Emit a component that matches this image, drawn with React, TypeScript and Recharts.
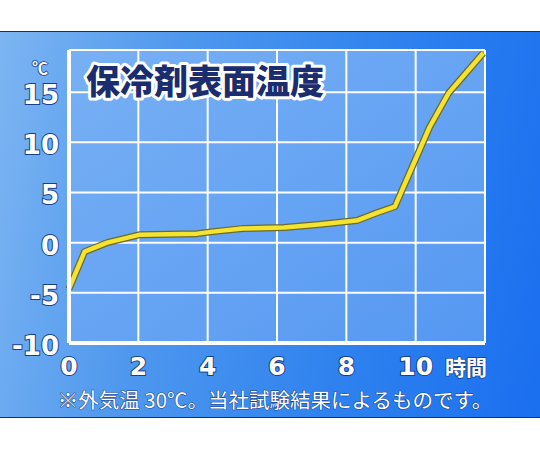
import React from "react";
import {
  LineChart,
  Line,
  XAxis,
  YAxis,
  CartesianGrid,
  ReferenceLine,
} from "recharts";

const hours = [0, 0.45, 1.1, 2.05, 3.7, 4.15, 5, 6.2, 7.2, 8.3, 8.9, 9.4, 10.4, 10.95, 11.95];
const temps = [-4.6, -0.9, 0, 0.8, 0.9, 1.1, 1.4, 1.5, 1.8, 2.2, 3.0, 3.6, 11.5, 14.9, 18.9];
const xTicks = [0, 2, 4, 6, 8, 10, 12];
const yTicks = [-10, -5, 0, 5, 10, 15];
const title = "保冷剤表面温度";
const footnote = "※外気温 30℃。当社試験結果によるものです。";
const unitY = "℃";
const unitX = "時間";

const data = hours.map((h, i) => ({ h, temp: temps[i] }));

const numFont = "'DejaVu Sans', sans-serif";
const jpFont = "'Noto Sans CJK JP', sans-serif";

const XTick = (props: any) => {
  const { x, y, payload } = props;
  if (payload.value === 12) return null;
  return (
    <text
      x={x}
      y={y + 24}
      textAnchor="middle"
      fontFamily={numFont}
      fontWeight="bold"
      fontSize={25}
      fill="#ffffff"
      stroke="#1a3f8a"
      strokeWidth={2}
      paintOrder="stroke"
    >
      {payload.value}
    </text>
  );
};

const YTick = (props: any) => {
  const { y, payload } = props;
  return (
    <text
      x={59}
      y={y + 12}
      textAnchor="end"
      fontFamily={numFont}
      fontWeight="bold"
      fontSize={26}
      fill="#ffffff"
      stroke="#1a3f8a"
      strokeWidth={2}
      paintOrder="stroke"
    >
      {payload.value}
    </text>
  );
};

export default function App() {
  return (
    <div style={{ position: "absolute", left: 0, top: 0, width: 540, height: 450, background: "#ffffff" }}>
      <div
        style={{
          position: "absolute",
          left: 0,
          top: 31,
          width: 540,
          height: 387,
          borderTop: "1px solid #1b3160",
          borderBottom: "1px solid #1b3160",
          boxSizing: "border-box",
          background:
            "linear-gradient(100deg, #7db5f2 0%, #4f98ee 30%, #2f82ee 65%, #1a6ff0 100%)",
        }}
      />
      <div style={{ position: "absolute", left: 0, top: 0 }}>
        <LineChart
          width={540}
          height={450}
          data={data}
          margin={{ top: 50, right: 55, bottom: 77, left: 9 }}
        >
          <defs>
            <linearGradient id="plotFill" x1="0" y1="0" x2="1" y2="1">
              <stop offset="0%" stopColor="#78b0f4" />
              <stop offset="100%" stopColor="#5598f2" />
            </linearGradient>
          </defs>
          <CartesianGrid
            stroke="#ffffff"
            strokeWidth={2}
            fill="url(#plotFill)"
            fillOpacity={1}
            verticalValues={xTicks}
            horizontalValues={yTicks}
          />
          <ReferenceLine y={19.2} stroke="#ffffff" strokeWidth={2} />
          <XAxis
            type="number"
            dataKey="h"
            domain={[0, 12]}
            ticks={xTicks}
            interval={0}
            tickLine={false}
            axisLine={{ stroke: "#ffffff", strokeWidth: 4 }}
            tick={<XTick />}
            height={30}
          />
          <YAxis
            type="number"
            domain={[-10, 19.2]}
            ticks={yTicks}
            interval={0}
            tickLine={false}
            axisLine={{ stroke: "#ffffff", strokeWidth: 4 }}
            tick={<YTick />}
            width={60}
            allowDataOverflow
          />
          <Line
            type="linear"
            dataKey="temp"
            stroke="#6b6a2a"
            strokeWidth={7}
            dot={false}
            isAnimationActive={false}
            strokeLinejoin="round"
          />
          <Line
            type="linear"
            dataKey="temp"
            stroke="#f4e431"
            strokeWidth={4.5}
            dot={false}
            isAnimationActive={false}
            strokeLinejoin="round"
          />
        </LineChart>
      </div>
      <svg
        width={540}
        height={450}
        style={{ position: "absolute", left: 0, top: 0, pointerEvents: "none" }}
      >
        <text
          x={86}
          y={94}
          fontFamily={jpFont}
          fontWeight={900}
          fontSize={34}
          fill="#1b2d6e"
          stroke="#ffffff"
          strokeWidth={6}
          strokeLinejoin="round"
          paintOrder="stroke"
        >
          {title}
        </text>
        <text
          x={40}
          y={74}
          textAnchor="middle"
          fontFamily={jpFont}
          fontWeight="bold"
          fontSize={16}
          fill="#ffffff"
          stroke="#1a3f8a"
          strokeWidth={1.5}
          paintOrder="stroke"
        >
          {unitY}
        </text>
        <text
          x={466}
          y={375}
          textAnchor="middle"
          fontFamily={jpFont}
          fontWeight="bold"
          fontSize={21}
          fill="#ffffff"
          stroke="#1a3f8a"
          strokeWidth={1.5}
          paintOrder="stroke"
        >
          {unitX}
        </text>
        <text
          x={275}
          y={408}
          textAnchor="middle"
          fontFamily={jpFont}
          fontSize={20.5}
          fill="#ffffff"
          stroke="#1a3f8a"
          strokeWidth={1}
          paintOrder="stroke"
        >
          {footnote}
        </text>
      </svg>
    </div>
  );
}
